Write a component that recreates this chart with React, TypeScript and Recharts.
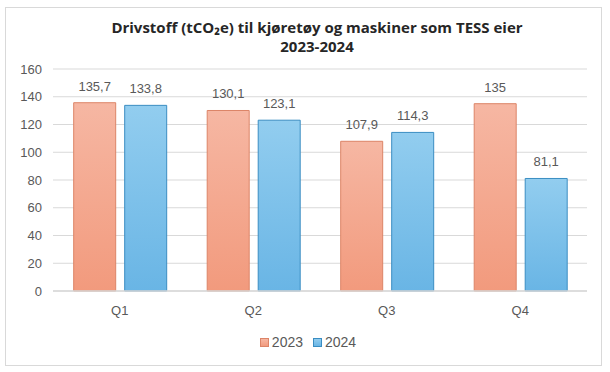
import React from "react"
import {
  BarChart,
  Bar,
  XAxis,
  YAxis,
  CartesianGrid,
  Legend,
  LabelList,
} from "recharts"

// Chart data
const quarters = ["Q1", "Q2", "Q3", "Q4"]
const values2023 = [135.7, 130.1, 107.9, 135]
const values2024 = [133.8, 123.1, 114.3, 81.1]
const yTicks = [0, 20, 40, 60, 80, 100, 120, 140, 160]

const COLORS = {
  a: { top: "#F6B7A3", bottom: "#F29A7D", stroke: "#DC8467" },
  b: { top: "#92CDEF", bottom: "#69B5E5", stroke: "#3A8DC2" },
}

const data = quarters.map((q, i) => ({
  name: q,
  y2023: values2023[i],
  y2024: values2024[i],
}))

const fmt = (v: any) => String(v).replace(".", ",")

const AXIS_FONT = "'Liberation Sans', Arial, sans-serif"
const GREY = "#595959"

function ChartLegend() {
  const items = [
    { label: "2023", c: COLORS.a },
    { label: "2024", c: COLORS.b },
  ]
  return (
    <div
      style={{
        display: "flex",
        justifyContent: "center",
        gap: 10,
        fontFamily: AXIS_FONT,
        fontSize: 14,
        lineHeight: "16px",
        color: GREY,
      }}
    >
      {items.map((it) => (
        <div key={it.label} style={{ display: "flex", alignItems: "center", gap: 3 }}>
          <span
            style={{
              width: 9,
              height: 9,
              boxSizing: "border-box",
              border: `1px solid ${it.c.stroke}`,
              background: `linear-gradient(${it.c.top}, ${it.c.bottom})`,
              display: "inline-block",
            }}
          />
          <span>{it.label}</span>
        </div>
      ))}
    </div>
  )
}

export default function App() {
  return (
    <div
      style={{
        position: "absolute",
        left: 0,
        top: 0,
        width: 610,
        height: 372,
        background: "#fff",
      }}
    >
      {/* frame */}
      <div
        style={{
          position: "absolute",
          left: 5,
          top: 7,
          width: 597,
          height: 359,
          boxSizing: "border-box",
          border: "1px solid #d9d9d9",
        }}
      />
      {/* title */}
      <div
        style={{
          position: "absolute",
          left: 12,
          top: 18,
          width: 610,
          textAlign: "center",
          fontFamily: "'Open Sans', sans-serif",
          fontWeight: 700,
          fontSize: 15,
          lineHeight: "19px",
          color: "#262626",
        }}
      >
        Drivstoff (tCO₂e) til kjøretøy og maskiner som TESS eier
        <br />
        2023-2024
      </div>
      <div style={{ position: "absolute", left: 0, top: 0 }}>
        <BarChart
          width={610}
          height={372}
          data={data}
          margin={{ top: 69, right: 23, bottom: 51, left: 0 }}
          barCategoryGap="15.5%"
          barGap={9}
        >
          <defs>
            <linearGradient id="g2023" x1="0" y1="0" x2="0" y2="1">
              <stop offset="0%" stopColor={COLORS.a.top} />
              <stop offset="100%" stopColor={COLORS.a.bottom} />
            </linearGradient>
            <linearGradient id="g2024" x1="0" y1="0" x2="0" y2="1">
              <stop offset="0%" stopColor={COLORS.b.top} />
              <stop offset="100%" stopColor={COLORS.b.bottom} />
            </linearGradient>
          </defs>
          <CartesianGrid vertical={false} stroke="#d9d9d9" />
          <XAxis
            dataKey="name"
            height={30}
            axisLine={{ stroke: "#d9d9d9", strokeWidth: 1.5 }}
            tickLine={false}
            tickSize={0}
            tickMargin={15}
            tick={{ fill: GREY, fontSize: 13, fontFamily: AXIS_FONT }}
          />
          <YAxis
            width={53}
            domain={[0, 160]}
            ticks={yTicks}
            axisLine={false}
            tickLine={false}
            tickSize={0}
            tickMargin={11}
            tick={{ fill: GREY, fontSize: 13, fontFamily: AXIS_FONT }}
          />
          <Legend
            layout="vertical"
            verticalAlign="middle"
            align="center"
            wrapperStyle={{ top: 334, left: 0, width: 616 }}
            content={() => <ChartLegend />}
          />
          <Bar
            dataKey="y2023"
            name="2023"
            fill="url(#g2023)"
            stroke={COLORS.a.stroke}
            strokeWidth={1}
            isAnimationActive={false}
          >
            <LabelList
              dataKey="y2023"
              position="top"
              offset={12}
              formatter={fmt}
              style={{ fill: GREY, fontSize: 13, fontFamily: AXIS_FONT }}
            />
          </Bar>
          <Bar
            dataKey="y2024"
            name="2024"
            fill="url(#g2024)"
            stroke={COLORS.b.stroke}
            strokeWidth={1}
            isAnimationActive={false}
          >
            <LabelList
              dataKey="y2024"
              position="top"
              offset={12}
              formatter={fmt}
              style={{ fill: GREY, fontSize: 13, fontFamily: AXIS_FONT }}
            />
          </Bar>
        </BarChart>
      </div>
    </div>
  )
}
